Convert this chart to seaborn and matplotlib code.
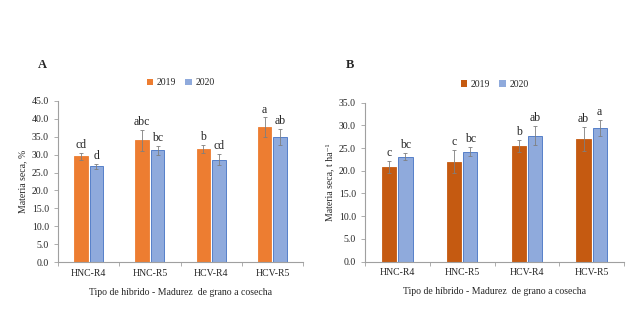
import numpy as np
import pandas as pd
import matplotlib
matplotlib.use("Agg")
import matplotlib.pyplot as plt
import seaborn as sns
from matplotlib.ticker import FixedLocator, MultipleLocator

categorias = ["HNC-R4", "HNC-R5", "HCV-R4", "HCV-R5"]
anios = ["2019", "2020"]

# Panel A: materia seca, %
a_2019 = [29.5, 34.0, 31.5, 37.7]
a_2020 = [26.8, 31.2, 28.6, 34.9]
a_err_2019 = [1.1, 3.0, 1.1, 2.7]
a_err_2020 = [0.7, 1.2, 1.6, 2.3]
a_letras_2019 = ["cd", "abc", "b", "a"]
a_letras_2020 = ["d", "bc", "cd", "ab"]

# Panel B: materia seca, t ha-1
b_2019 = [20.9, 22.0, 25.5, 27.0]
b_2020 = [23.1, 24.2, 27.7, 29.4]
b_err_2019 = [1.3, 2.6, 1.3, 2.6]
b_err_2020 = [0.8, 1.0, 2.1, 1.7]
b_letras_2019 = ["c", "c", "b", "ab"]
b_letras_2020 = ["bc", "bc", "ab", "a"]

sns.set_style("white")
plt.rcParams["font.family"] = ["Liberation Serif", "DejaVu Serif"]
plt.rcParams["font.size"] = 7

W = 640.0
H = 317.0


def panel(fig, rect, v19, v20, e19, e20, l19, l20, colores, ymax, ylabel, letra, letra_x):
    ax = fig.add_axes(rect)
    df = pd.DataFrame({
        "cat": categorias * 2,
        "anio": [anios[0]] * 4 + [anios[1]] * 4,
        "valor": v19 + v20,
    })
    sns.barplot(data=df, x="cat", y="valor", hue="anio", order=categorias,
                hue_order=anios, palette=colores, width=0.5, gap=0.12,
                errorbar=None, ax=ax, saturation=1)
    bordes = [colores[0], "#4472C4"]
    for cont, errs, letras, borde in zip(ax.containers, [e19, e20], [l19, l20], bordes):
        for bar, e, t in zip(cont, errs, letras):
            bar.set_edgecolor(borde)
            bar.set_linewidth(0.6)
            x = bar.get_x() + bar.get_width() / 2
            h = bar.get_height()
            ax.errorbar(x, h, yerr=e, color="#7f7f7f", lw=0.6, capsize=1.5, capthick=0.6)
            ax.text(x, h + e + ymax * 0.012, t, ha="center", va="bottom", fontsize=8.5)
    ax.set_ylim(0, ymax)
    ax.set_xlim(-0.5, 3.5)
    ax.yaxis.set_major_locator(MultipleLocator(5))
    ax.yaxis.set_major_formatter(matplotlib.ticker.FormatStrFormatter("%.1f"))
    ax.xaxis.set_minor_locator(FixedLocator([-0.5, 0.5, 1.5, 2.5, 3.5]))
    ax.tick_params(axis="x", which="major", length=0, pad=5, labelsize=7)
    ax.tick_params(axis="x", which="minor", length=3, width=0.6, color="#a0a0a0", direction="out", bottom=True)
    ax.tick_params(axis="y", length=3, width=0.6, color="#a0a0a0", direction="out", left=True, labelsize=7)
    for s in ["top", "right"]:
        ax.spines[s].set_visible(False)
    for s in ["left", "bottom"]:
        ax.spines[s].set_color("#a0a0a0")
        ax.spines[s].set_linewidth(0.8)
    ax.set_xlabel("Tipo de híbrido - Madurez  de grano a cosecha", fontsize=7, labelpad=7)
    ax.set_ylabel(ylabel, fontsize=7, labelpad=3)
    leg = ax.legend(loc="lower center", bbox_to_anchor=(0.5, 1.03), ncol=2, frameon=False,
                    fontsize=7, handlelength=0.7, handleheight=0.7, handletextpad=0.3,
                    columnspacing=1.0)
    for h in leg.legend_handles:
        h.set_linewidth(0)
    fig.text(letra_x / W, 1 - 65 / H, letra, fontsize=9, fontweight="bold",
             ha="left", va="center")
    return ax


fig = plt.figure(figsize=(6.4, 3.17), dpi=100)
panel(fig, [58 / W, 1 - 262 / H, 245 / W, 161 / H], a_2019, a_2020, a_err_2019, a_err_2020,
      a_letras_2019, a_letras_2020, ["#ED7D31", "#8FAADC"], 45, "Materia seca, %", "A", 38)
panel(fig, [365 / W, 1 - 261.5 / H, 259 / W, 158.8 / H], b_2019, b_2020, b_err_2019, b_err_2020,
      b_letras_2019, b_letras_2020, ["#C55A11", "#8FAADC"], 35, "Materia seca, t ha⁻¹", "B", 346)

fig.savefig("out.png", dpi=100, facecolor="white")
